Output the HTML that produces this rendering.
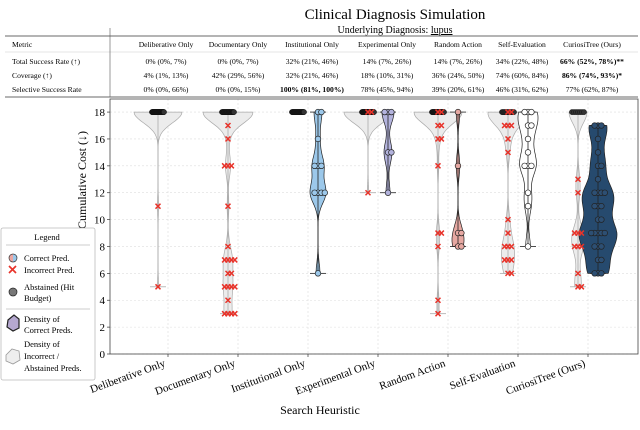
<!DOCTYPE html>
<html><head><meta charset="utf-8"><style>
body{margin:0;background:#fff}
svg{display:block;font-family:"Liberation Serif",serif}
</style></head><body>
<svg id="chart" width="640" height="430" viewBox="0 0 640 430" xmlns="http://www.w3.org/2000/svg">
<text x="395" y="19" text-anchor="middle" font-size="15">Clinical Diagnosis Simulation</text>
<text x="395" y="33" text-anchor="middle" font-size="10">Underlying Diagnosis: <tspan text-decoration="underline">lupus</tspan></text>
<g id="table" font-size="7.6"></g>
<g id="plot"></g>
<g id="legend"></g>
</svg>
<script>
const categories=["Deliberative Only","Documentary Only","Institutional Only","Experimental Only","Random Action","Self-Evaluation","CuriosiTree (Ours)"];
const tableHeaders=["Deliberative Only","Documentary Only","Institutional Only","Experimental Only","Random Action","Self-Evaluation","CuriosiTree (Ours)"];
const rowTotal=["0% (0%, 7%)","0% (0%, 7%)","32% (21%, 46%)","14% (7%, 26%)","14% (7%, 26%)","34% (22%, 48%)","66% (52%, 78%)**"];
const rowCoverage=["4% (1%, 13%)","42% (29%, 56%)","32% (21%, 46%)","18% (10%, 31%)","36% (24%, 50%)","74% (60%, 84%)","86% (74%, 93%)*"];
const rowSelective=["0% (0%, 66%)","0% (0%, 15%)","100% (81%, 100%)","78% (45%, 94%)","39% (20%, 61%)","46% (31%, 62%)","77% (62%, 87%)"];
const abstainedValue=[18,18,18,18,18,18,18];
const abstainedCount=[48,29,34,41,32,13,7];
const incorrect=[[11,5],[17,16,14,14,14,11,8,7,7,7,7,6,6,5,5,5,5,4,3,3,3,3],[],[18,18,12],[18,18,17,17,16,16,14,9,9,8,4,3],[18,18,17,17,17,16,15,10,9,8,8,8,7,7,7,6,6],[13,12,9,9,9,8,8,8,6,5,5]];
const correct=[[],[],[18,18,16,14,14,14,12,12,12,12,6],[18,18,18,15,15,12],[18,14,9,9,8,8],[18,18,18,17,17,16,15,14,14,14,12,11,8],[17,17,17,16,15,14,14,13,12,12,12,12,11,11,11,10,10,9,9,9,9,9,8,8,8,7,7,6,6,6]];
const yTicks=[0,2,4,6,8,10,12,14,16,18];
const colFill=["#9cc8ea","#9cc8ea","#9cc8ea","#b3b3dd","#e6a8a2","#ffffff","#264a6e"];
const colHalf=[8,8,8,6,6,10,19];
const grayHalf=[24,25,0,24,24,20,9];

const NS="http://www.w3.org/2000/svg";
function mk(tag,attrs,parent){const e=document.createElementNS(NS,tag);for(const k in attrs)e.setAttribute(k,attrs[k]);parent.appendChild(e);return e;}
const L=110,R=638,T=99,B=354;
function y(v){return 354-v*13.44;}
function xTick(i){return 168+i*70;}

// table
const tb=document.getElementById('table');
mk('line',{x1:5,x2:638,y1:36,y2:36,stroke:'#888','stroke-width':1.3},tb);
mk('line',{x1:5,x2:638,y1:52,y2:52,stroke:'#ccc','stroke-width':0.6},tb);
mk('line',{x1:5,x2:638,y1:97,y2:97,stroke:'#888','stroke-width':1.3},tb);
mk('line',{x1:110,x2:110,y1:28,y2:97,stroke:'#555','stroke-width':0.6},tb);
const colX=[166,238,312,387,458,522,592];
const rows=[["Metric",tableHeaders,47],["Total Success Rate (\u2191)",rowTotal,64],["Coverage (\u2191)",rowCoverage,78],["Selective Success Rate",rowSelective,92]];
rows.forEach((r,ri)=>{
  let t=mk('text',{x:12,y:r[2]},tb);t.textContent=r[0];
  
  r[1].forEach((s,i)=>{let c=mk('text',{x:colX[i],y:r[2],'text-anchor':'middle'},tb);c.textContent=s;
    
    if((i==6&&(ri==1||ri==2))||(i==2&&ri==3))c.setAttribute('font-weight','bold');});
});

// plot
const p=document.getElementById('plot');
yTicks.forEach(v=>{
  const g=mk('line',{x1:L,x2:R,y1:y(v),y2:y(v),stroke:'#ddd','stroke-width':0.6,'stroke-dasharray':'2,2'},p);
  
  mk('line',{x1:L-3,x2:L,y1:y(v),y2:y(v),stroke:'#333','stroke-width':0.7},p);
  const t=mk('text',{x:L-5,y:y(v)+4,'text-anchor':'end','font-size':11},p);t.textContent=v;
  
});
categories.forEach((c,i)=>{
  const g=mk('line',{x1:xTick(i),x2:xTick(i),y1:T,y2:B,stroke:'#ddd','stroke-width':0.6,'stroke-dasharray':'2,2'},p);
  
  mk('line',{x1:xTick(i),x2:xTick(i),y1:B,y2:B+3,stroke:'#333','stroke-width':0.7},p);
  const t=mk('text',{x:xTick(i)-2,y:B+12,'text-anchor':'end','font-size':11,transform:`rotate(-20 ${xTick(i)-2} ${B+12})`},p);
  t.textContent=c;
});
const fr=mk('rect',{x:L,y:T,width:R-L,height:B-T,fill:'none',stroke:'#444','stroke-width':0.8},p);

let yl=mk('text',{x:86,y:180,'text-anchor':'middle','font-size':12,transform:'rotate(-90 86 180)'},p);
yl.textContent='Cumulative Cost (\u2193)';
let xl=mk('text',{x:320,y:414,'text-anchor':'middle','font-size':12},p);
xl.textContent='Search Heuristic';

function violin(vals,cx,half,fill,stroke,name){
  if(!vals.length)return;
  const mn=Math.min(...vals),mx=Math.max(...vals);
  if(mx>mn&&half>0){
    const bw=0.8;const N=80;let dens=[];
    for(let k=0;k<=N;k++){const v=mn+(mx-mn)*k/N;let d=0;vals.forEach(u=>{d+=Math.exp(-0.5*((v-u)/bw)**2)});dens.push([v,d]);}
    const md=Math.max(...dens.map(d=>d[1]));
    let path='';dens.forEach((d,k)=>{path+=(k?'L':'M')+(cx+d[1]/md*half).toFixed(1)+','+y(d[0]).toFixed(1);});
    for(let k=N;k>=0;k--){const d=dens[k];path+='L'+(cx-d[1]/md*half).toFixed(1)+','+y(d[0]).toFixed(1);}
    const e=mk('path',{d:path+'Z',fill:fill,stroke:stroke,'stroke-width':0.7},p);
    
  }
  mk('line',{x1:cx,x2:cx,y1:y(mn),y2:y(mx),stroke:stroke,'stroke-width':0.8},p);
  mk('line',{x1:cx-8,x2:cx+8,y1:y(mn),y2:y(mn),stroke:stroke,'stroke-width':0.8},p);
  mk('line',{x1:cx-8,x2:cx+8,y1:y(mx),y2:y(mx),stroke:stroke,'stroke-width':0.8},p);
}
function offsets(vals){const cnt={};return vals.map(v=>{cnt[v]=(cnt[v]||0)+1;const n=cnt[v]-1;return (n%2?1:-1)*Math.ceil(n/2)*3.4;});}
categories.forEach((c,i)=>{
  const gx=xTick(i)-10,cx=xTick(i)+10;
  const ab=Array(abstainedCount[i]).fill(abstainedValue[i]);
  const grayVals=ab.concat(incorrect[i]);
  violin(grayVals,gx,grayHalf[i],'#ececec','#aaa','incorrect-density-violin');
  if(correct[i].length)violin(correct[i],cx,colHalf[i],colFill[i],'#222','correct-density-violin');
  const n=ab.length,spread=Math.min(6,n*0.9);
  ab.forEach((v,k)=>{const off=n>1?-spread+2*spread*k/(n-1):0;
    const e=mk('circle',{cx:gx+off,cy:y(v),r:2.6,fill:'#333',stroke:'#111','stroke-width':0.5},p);
    });
  const inc=incorrect[i],io=offsets(inc);
  inc.forEach((v,k)=>{const px=gx+io[k],py=y(v);
    const e=mk('path',{d:`M${px-2.5},${py-2.5}L${px+2.5},${py+2.5}M${px-2.5},${py+2.5}L${px+2.5},${py-2.5}`,stroke:'#e8332a','stroke-width':1.5},p);
    });
  const co=correct[i],oo=offsets(co);
  co.forEach((v,k)=>{const e=mk('circle',{cx:cx+oo[k],cy:y(v),r:2.8,fill:i==6?'#2d4f73':colFill[i],stroke:'#222','stroke-width':0.7},p);
    });
});

// legend
const lg=document.getElementById('legend');
mk('rect',{x:1,y:228,width:94,height:152,fill:'#fff',stroke:'#bbb','stroke-width':0.8,rx:2},lg);
const lt=(s,x,yy)=>{const t=mk('text',{x:x,y:yy,'font-size':8.5},lg);t.textContent=s;return t;};
let h=lt('Legend',47,240);h.setAttribute('text-anchor','middle');
mk('line',{x1:6,x2:90,y1:245,y2:245,stroke:'#999','stroke-width':0.6},lg);
mk('path',{d:'M13,254 A4,4 0 0 1 13,262 Z',fill:'#9cc8ea'},lg);
mk('path',{d:'M13,254 A4,4 0 0 0 13,262 Z',fill:'#eaa8a4'},lg);
mk('circle',{cx:13,cy:258,r:4,fill:'none',stroke:'#333','stroke-width':0.7},lg);
lt('Correct Pred.',24,261);
mk('path',{d:'M9,266L16,273M9,273L16,266',stroke:'#e8332a','stroke-width':1.7},lg);
lt('Incorrect Pred.',24,273);
mk('circle',{cx:13,cy:292,r:4,fill:'#777',stroke:'#222','stroke-width':0.7},lg);
lt('Abstained (Hit',24,290);lt('Budget)',24,301);
mk('line',{x1:6,x2:90,y1:309,y2:309,stroke:'#999','stroke-width':0.6},lg);
mk('path',{d:'M8,320L14,315L19,319L19,328L13,331L7,327Z',fill:'#b5a8d0',stroke:'#222','stroke-width':1.2},lg);
lt('Density of',24,322);lt('Correct Preds.',24,333);
mk('path',{d:'M6,355L12,349L19,351L20,360L13,364L6,361Z',fill:'#eee',stroke:'#999','stroke-width':0.8},lg);
lt('Density of',24,347);lt('Incorrect /',24,359);lt('Abstained Preds.',24,371);
</script>
</body></html>
